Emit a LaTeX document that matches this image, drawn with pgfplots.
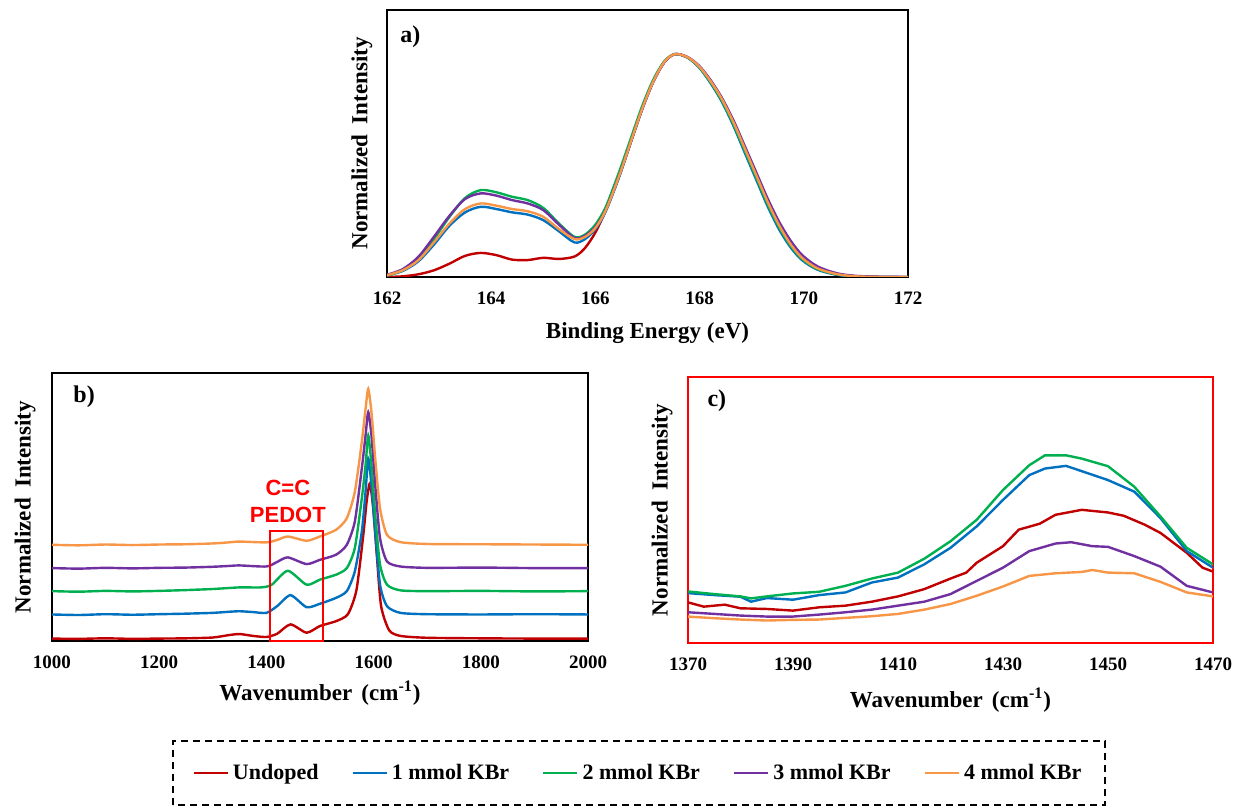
\documentclass[border=0pt]{standalone}
\usepackage{fontspec}
\setmainfont{Liberation Serif}
\newfontfamily\sansf{Liberation Sans}
\usepackage{pgfplots}
\pgfplotsset{compat=1.18}
\definecolor{cred}{RGB}{192,0,0}
\definecolor{cblue}{RGB}{0,112,192}
\definecolor{cgreen}{RGB}{0,176,80}
\definecolor{cpurple}{RGB}{112,48,160}
\definecolor{corange}{RGB}{247,150,70}
\pgfplotsset{
  panel/.style={
    scale only axis,
    axis line style={line width=1.2pt, black},
    ytick=\empty,
    major tick length=0pt,
    tick label style={font=\fontsize{9.5}{11}\selectfont\bfseries},
    /pgf/number format/assume math mode=true,
    /pgf/number format/1000 sep={},
    label style={font=\fontsize{11.5}{13}\selectfont\bfseries},
    xticklabel style={yshift=-4pt},
    every axis plot/.append style={line width=1.2pt},
    ylabel={Normalized\hspace{0.45em}Intensity},
  },
}
\begin{document}
\begin{tikzpicture}
\useasboundingbox (0,0) rectangle (618.5pt,404.5pt);

% ---------------- panel a ----------------
\begin{axis}[panel,
  at={(193.5pt,266pt)}, anchor=south west,
  width=260.5pt, height=133.5pt,
  xmin=162, xmax=172, ymin=0, ymax=1.198,
  xtick={162,164,...,172},
  xlabel={Binding Energy (eV)},
  xlabel style={at={(axis description cs:0.5,-0.21)}, anchor=center},
  ylabel style={at={(axis description cs:-0.048,0.5)}, anchor=center},
]
\addplot[cred, smooth, tension=0.5] coordinates {
(162.0,0) (162.3,0.003) (162.6,0.012) (162.9,0.03) (163.2,0.06) (163.5,0.095)
(163.8,0.108) (164.1,0.098) (164.4,0.078) (164.7,0.076) (165.0,0.086) (165.3,0.081)
(165.6,0.092) (165.8,0.13) (166.0,0.2) (166.2,0.30) (166.45,0.449) (166.67,0.599)
(166.89,0.749) (167.11,0.876) (167.33,0.966) (167.53,1.0) (167.77,0.985) (167.99,0.943)
(168.21,0.876) (168.43,0.793) (168.65,0.689) (168.87,0.569) (169.09,0.449) (169.31,0.329)
(169.53,0.225) (169.75,0.142) (169.97,0.082) (170.26,0.037) (170.63,0.012) (171.0,0.003)
(171.5,0.0) (172,0.0)};
\addplot[cblue, smooth, tension=0.5] coordinates {
(162.0,0.007) (162.3,0.027) (162.6,0.07) (162.9,0.145) (163.2,0.23) (163.5,0.29)
(163.8,0.315) (164.1,0.305) (164.4,0.29) (164.7,0.28) (165.0,0.255) (165.3,0.205)
(165.6,0.155) (165.8,0.17) (166.0,0.215) (166.2,0.295) (166.45,0.445) (166.67,0.597)
(166.89,0.748) (167.11,0.876) (167.33,0.966) (167.53,1.0) (167.77,0.984) (167.99,0.94)
(168.21,0.87) (168.43,0.785) (168.65,0.678) (168.87,0.556) (169.09,0.435) (169.31,0.315)
(169.53,0.212) (169.75,0.132) (169.97,0.075) (170.26,0.033) (170.63,0.01) (171.0,0.002)
(171.5,0.0) (172,0.0)};
\addplot[cgreen, smooth, tension=0.5] coordinates {
(162.0,0.007) (162.3,0.03) (162.6,0.08) (162.9,0.17) (163.2,0.27) (163.5,0.355)
(163.8,0.39) (164.1,0.38) (164.4,0.36) (164.7,0.345) (165.0,0.31) (165.3,0.24)
(165.6,0.18) (165.8,0.19) (166.0,0.235) (166.2,0.315) (166.45,0.468) (166.67,0.615)
(166.89,0.762) (167.11,0.885) (167.33,0.97) (167.53,1.0) (167.77,0.985) (167.99,0.942)
(168.21,0.874) (168.43,0.79) (168.65,0.685) (168.87,0.565) (169.09,0.445) (169.31,0.325)
(169.53,0.222) (169.75,0.14) (169.97,0.08) (170.26,0.036) (170.63,0.012) (171.0,0.003)
(171.5,0.0) (172,0.0)};
\addplot[cpurple, smooth, tension=0.5] coordinates {
(162.0,0.01) (162.3,0.035) (162.6,0.09) (162.9,0.18) (163.2,0.275) (163.5,0.35)
(163.8,0.375) (164.1,0.365) (164.4,0.345) (164.7,0.33) (165.0,0.30) (165.3,0.235)
(165.6,0.175) (165.8,0.185) (166.0,0.225) (166.2,0.302) (166.45,0.452) (166.67,0.6)
(166.89,0.749) (167.11,0.876) (167.33,0.966) (167.53,1.0) (167.77,0.987) (167.99,0.948)
(168.21,0.884) (168.43,0.803) (168.65,0.703) (168.87,0.586) (169.09,0.468) (169.31,0.35)
(169.53,0.246) (169.75,0.162) (169.97,0.098) (170.26,0.048) (170.63,0.017) (171.0,0.005)
(171.5,0.001) (172,0.0)};
\addplot[corange, smooth, tension=0.5] coordinates {
(162.0,0.008) (162.3,0.03) (162.6,0.075) (162.9,0.155) (163.2,0.24) (163.5,0.305)
(163.8,0.33) (164.1,0.32) (164.4,0.305) (164.7,0.295) (165.0,0.27) (165.3,0.215)
(165.6,0.17) (165.8,0.18) (166.0,0.22) (166.2,0.3) (166.45,0.45) (166.67,0.6)
(166.89,0.75) (167.11,0.877) (167.33,0.967) (167.53,1.0) (167.77,0.986) (167.99,0.945)
(168.21,0.879) (168.43,0.797) (168.65,0.694) (168.87,0.575) (169.09,0.455) (169.31,0.335)
(169.53,0.23) (169.75,0.146) (169.97,0.085) (170.26,0.039) (170.63,0.013) (171.0,0.003)
(171.5,0.0) (172,0.0)};
\node[font=\fontsize{12}{14}\selectfont\bfseries] at (rel axis cs:0.045,0.9) {a)};
\end{axis}

% ---------------- panel b ----------------
\begin{axis}[panel,
  at={(26pt,84pt)}, anchor=south west,
  width=268pt, height=134pt,
  xmin=1000, xmax=2000, ymin=0, ymax=1,
  xtick={1000,1200,...,2000},
  xlabel={Wavenumber\hspace{0.4em}(cm\textsuperscript{-1})},
  xlabel style={at={(axis description cs:0.5,-0.194)}, anchor=center},
  ylabel style={at={(axis description cs:-0.05,0.5)}, anchor=center},
  legend columns=5,
  legend style={at={(1.0951,-0.4925)}, anchor=center, draw=none, fill=none,
    font=\fontsize{11}{13}\selectfont\bfseries,
    /tikz/every even column/.append style={column sep=14.5pt}},
  legend image code/.code={\draw[#1,line width=1.2pt] (0pt,0pt) -- (17pt,0pt);},
]
\addplot[cred, smooth, tension=0.4] coordinates {
(1000,0.009) (1050,0.008) (1100,0.010) (1150,0.008) (1200,0.009) (1250,0.010) (1300,0.013)
(1330,0.022) (1350,0.026) (1375,0.019) (1400,0.015) (1420,0.027) (1445,0.062) (1475,0.031) (1500,0.056)
(1530,0.074) (1552,0.10) (1568,0.19) (1581,0.40) (1587,0.52) (1593,0.588) (1599,0.50)
(1606,0.32) (1614,0.13) (1629,0.04) (1650,0.019) (1700,0.012) (1800,0.010) (1900,0.009) (2000,0.009)};
\addlegendentry{Undoped}
\addplot[cblue, smooth, tension=0.4] coordinates {
(1000,0.099) (1050,0.097) (1100,0.100) (1150,0.098) (1200,0.100) (1250,0.102) (1300,0.105)
(1330,0.109) (1350,0.111) (1375,0.108) (1400,0.105) (1420,0.13) (1445,0.171) (1475,0.126) (1500,0.139)
(1530,0.161) (1550,0.186) (1565,0.26) (1578,0.408) (1585,0.557) (1590,0.681) (1596,0.582)
(1603,0.408) (1612,0.21) (1625,0.13) (1650,0.105) (1700,0.100) (1800,0.099) (1900,0.100) (2000,0.099)};
\addlegendentry{1 mmol KBr}
\addplot[cgreen, smooth, tension=0.4] coordinates {
(1000,0.186) (1050,0.184) (1100,0.187) (1150,0.185) (1200,0.187) (1250,0.190) (1300,0.194)
(1350,0.200) (1390,0.200) (1410,0.210) (1440,0.262) (1475,0.210) (1500,0.229)
(1530,0.2475) (1550,0.272) (1565,0.347) (1578,0.532) (1585,0.656) (1590,0.767) (1596,0.656)
(1603,0.470) (1612,0.285) (1625,0.210) (1650,0.189) (1700,0.186) (1800,0.187) (1900,0.185) (2000,0.186)};
\addlegendentry{2 mmol KBr}
\addplot[cpurple, smooth, tension=0.4] coordinates {
(1000,0.272) (1050,0.270) (1100,0.273) (1150,0.271) (1200,0.273) (1250,0.274) (1300,0.277)
(1330,0.280) (1350,0.282) (1400,0.278) (1420,0.295) (1440,0.312) (1475,0.287) (1500,0.303)
(1530,0.322) (1550,0.359) (1565,0.446) (1578,0.644) (1585,0.767) (1590,0.854) (1596,0.767)
(1603,0.582) (1612,0.384) (1625,0.297) (1650,0.278) (1700,0.273) (1800,0.274) (1900,0.272) (2000,0.272)};
\addlegendentry{3 mmol KBr}
\addplot[corange, smooth, tension=0.4] coordinates {
(1000,0.359) (1050,0.357) (1100,0.360) (1150,0.358) (1200,0.360) (1250,0.361) (1300,0.364)
(1330,0.368) (1350,0.371) (1400,0.368) (1420,0.377) (1440,0.390) (1475,0.374) (1500,0.390)
(1530,0.415) (1550,0.458) (1565,0.557) (1578,0.743) (1585,0.866) (1590,0.941) (1596,0.854)
(1603,0.681) (1612,0.495) (1625,0.396) (1650,0.369) (1700,0.362) (1800,0.361) (1900,0.360) (2000,0.359)};
\addlegendentry{4 mmol KBr}
\draw[red, line width=1pt] (axis cs:1407,0) rectangle (axis cs:1505,0.411);
\node[red, font=\sansf\bfseries\fontsize{11}{13.5}\selectfont, align=center] at (axis cs:1440,0.521) {C=C\\PEDOT};
\node[font=\fontsize{12}{14}\selectfont\bfseries] at (rel axis cs:0.06,0.91) {b)};
\end{axis}

% ---------------- panel c ----------------
\begin{axis}[panel,
  at={(344pt,83pt)}, anchor=south west,
  width=262.5pt, height=133pt,
  axis line style={line width=1pt, red},
  xmin=1370, xmax=1470, ymin=0, ymax=805,
  xtick={1370,1390,...,1470},
  xlabel={Wavenumber\hspace{0.4em}(cm\textsuperscript{-1})},
  xlabel style={at={(axis description cs:0.5,-0.214)}, anchor=center},
  ylabel style={at={(axis description cs:-0.0495,0.5)}, anchor=center},
]
\addplot[cred] coordinates {
(1370,123) (1373,110) (1377,116) (1380,105) (1385,103) (1390,98) (1395,108) (1400,113)
(1405,125) (1410,141) (1415,163) (1420,195) (1423,213) (1425,243) (1430,293) (1433,343)
(1437,361) (1440,388) (1445,403) (1450,395) (1453,385) (1457,358) (1460,333) (1465,273)
(1468,228) (1470,216)};
\addplot[cblue] coordinates {
(1370,151) (1375,145) (1380,140) (1382,125) (1385,136) (1390,131) (1395,145) (1400,153)
(1405,183) (1410,198) (1415,238) (1420,288) (1425,353) (1430,433) (1435,508) (1438,528)
(1442,536) (1445,520) (1450,493) (1455,458) (1460,378) (1465,278) (1470,228)};
\addplot[cgreen] coordinates {
(1370,156) (1375,148) (1380,141) (1382,135) (1385,141) (1390,150) (1395,155) (1400,173)
(1405,195) (1410,213) (1415,255) (1420,308) (1425,373) (1430,463) (1435,538) (1438,568)
(1442,568) (1445,558) (1450,535) (1455,473) (1460,383) (1465,288) (1470,238)};
\addplot[cpurple] coordinates {
(1370,93) (1375,88) (1380,83) (1385,80) (1390,80) (1395,86) (1400,93) (1405,101)
(1410,113) (1415,125) (1420,148) (1425,188) (1430,228) (1435,278) (1440,301) (1443,305)
(1447,293) (1450,291) (1455,263) (1460,231) (1465,173) (1470,153)};
\addplot[corange] coordinates {
(1370,80) (1375,75) (1380,71) (1385,68) (1390,70) (1395,71) (1400,76) (1405,81)
(1410,88) (1415,101) (1420,118) (1425,143) (1430,171) (1435,203) (1440,211) (1445,215)
(1447,221) (1450,213) (1455,211) (1460,185) (1465,153) (1470,141)};
\node[font=\fontsize{12}{14}\selectfont\bfseries] at (rel axis cs:0.055,0.91) {c)};
\end{axis}

% legend frame
\draw[line width=1pt, dash pattern=on 3.5pt off 2.5pt] (86.5pt,2pt) rectangle (552.5pt,34pt);
\end{tikzpicture}
\end{document}
